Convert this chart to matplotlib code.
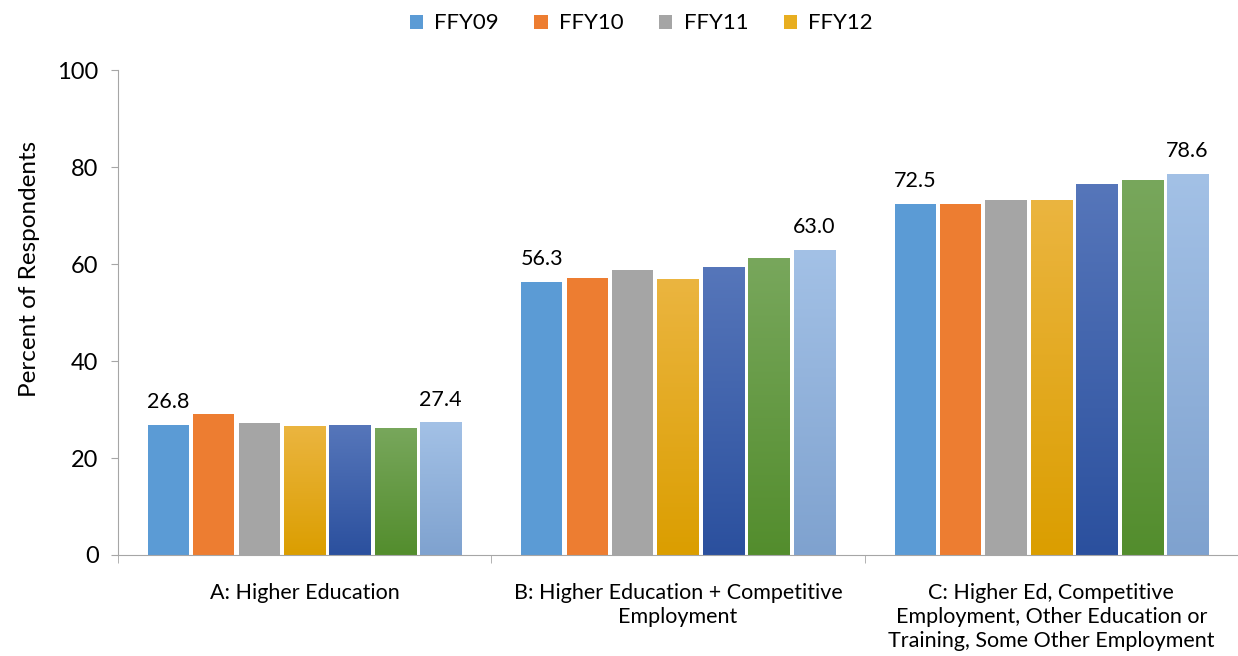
import numpy as np
import matplotlib.pyplot as plt
from matplotlib.colors import LinearSegmentedColormap
from matplotlib.patches import Patch

plt.rcParams['font.family'] = ['Lato', 'DejaVu Sans']

categories = ['A: Higher Education',
              'B: Higher Education + Competitive\nEmployment',
              'C: Higher Ed, Competitive\nEmployment, Other Education or\nTraining, Some Other Employment']
years = ['FFY09', 'FFY10', 'FFY11', 'FFY12', 'FFY13', 'FFY14', 'FFY15']
ffy09 = [26.8, 56.3, 72.5]
ffy10 = [29.0, 57.1, 72.3]
ffy11 = [27.2, 58.8, 73.3]
ffy12 = [26.6, 56.9, 73.3]
ffy13 = [26.8, 59.4, 76.5]
ffy14 = [26.2, 61.2, 77.4]
ffy15 = [27.4, 63.0, 78.6]
series = [ffy09, ffy10, ffy11, ffy12, ffy13, ffy14, ffy15]

# (top colour, bottom colour) - first three are flat
colors = [('#5B9BD5', '#5B9BD5'),
          ('#ED7D31', '#ED7D31'),
          ('#A5A5A5', '#A5A5A5'),
          ('#EBB540', '#DB9E00'),
          ('#5676BA', '#2B509E'),
          ('#78A75C', '#538D2D'),
          ('#A3C1E6', '#7FA2CF')]

fig = plt.figure(figsize=(12.38, 6.56), dpi=100)
ax = fig.add_axes([0.0953, 0.154, 0.9047, 0.739])

x = np.arange(len(categories))
step = 0.1215
width = 0.11
for i, vals in enumerate(series):
    pos = x + (i - 3) * step
    top, bot = colors[i]
    bars = ax.bar(pos, vals, width, color=top, zorder=2)
    if top != bot:
        cmap = LinearSegmentedColormap.from_list('g%d' % i, [bot, top])
        for b in bars:
            b.set_facecolor('none')
            x0, w, h = b.get_x(), b.get_width(), b.get_height()
            grad = np.linspace(0, 1, 256).reshape(-1, 1)
            im = ax.imshow(grad, cmap=cmap, origin='lower', aspect='auto',
                           extent=[x0, x0 + w, 0, h], zorder=2)
            im.set_clip_path(b)
    if i == 0 or i == len(series) - 1:
        for p, v in zip(pos, vals):
            ax.text(p, v + 2.6, '%.1f' % v, ha='center', va='bottom', fontsize=15.5)

ax.set_xlim(-0.5, 2.5)
ax.set_ylim(0, 100)
ax.set_yticks(range(0, 101, 20))
ax.tick_params(axis='y', labelsize=17, length=5, color='#A6A6A6', pad=9)
ax.set_xticks(x)
ax.set_xticklabels(categories, fontsize=15.5, linespacing=1.25)
ax.set_xticks(np.arange(-0.5, 2.6, 1), minor=True)
ax.tick_params(axis='x', which='major', length=0, pad=20)
ax.tick_params(axis='x', which='minor', length=6, color='#A6A6A6')
ax.set_ylabel('Percent of Respondents', fontsize=17.5)
ax.yaxis.set_label_coords(-0.07, 0.59)

for s in ['top', 'right']:
    ax.spines[s].set_visible(False)
for s in ['left', 'bottom']:
    ax.spines[s].set_color('#A6A6A6')

handles = [Patch(facecolor=colors[i][0] if i < 3 else '#E8AE20') for i in range(4)]
fig.legend(handles, years[:4], loc='upper center', bbox_to_anchor=(0.518, 1.01),
           ncol=4, frameon=False, fontsize=16, handlelength=0.6, handleheight=0.6,
           columnspacing=1.6, handletextpad=0.5)

fig.savefig('out.png', dpi=100)
